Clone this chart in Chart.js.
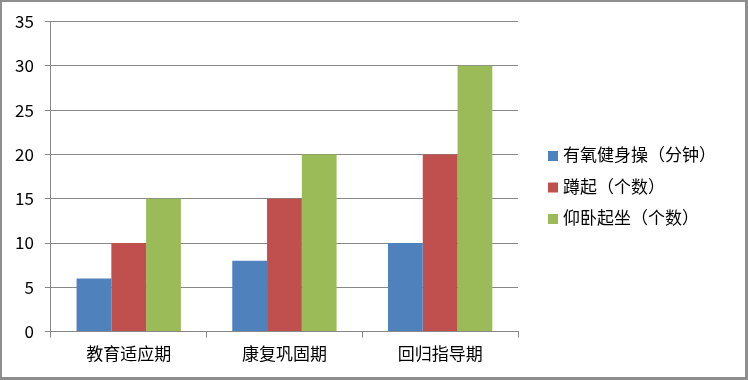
<!DOCTYPE html>
<html>
<head>
<meta charset="utf-8">
<script src="https://cdn.jsdelivr.net/npm/chart.js@4"></script>
<style>
  html, body { margin: 0; padding: 0; background: #fff; }
  #box {
    width: 748px; height: 380px; box-sizing: border-box;
    border: 2px solid #8e8e8e; border-right-width: 3px; border-bottom-width: 3px;
    position: relative;
  }
  #box canvas { display: block; }
</style>
</head>
<body>
<div id="box"><canvas id="chart" width="743" height="375"></canvas></div>
<script>
const categories = ["教育适应期", "康复巩固期", "回归指导期"];
const aerobics = [6, 8, 10];
const squats = [10, 15, 20];
const situps = [15, 20, 30];
const seriesNames = ["有氧健身操（分钟）", "蹲起（个数）", "仰卧起坐（个数）"];

const font = "'Noto Sans CJK SC', 'Liberation Sans', sans-serif";
const gridColor = "#888888";

// legend drawn by hand so it sits where the Excel legend sits
const sideLegend = {
    id: "sideLegend",
    afterDraw(chart) {
        const c = chart.ctx;
        const x = chart.chartArea.right + 30;
        const y0 = 153;
        const step = 31.5;
        c.save();
        c.font = "17px " + font;
        c.textBaseline = "middle";
        chart.data.datasets.forEach(function (ds, i) {
            const y = y0 + i * step;
            c.fillStyle = ds.backgroundColor;
            c.fillRect(x, y - 4, 10, 10);
            c.fillStyle = "#000";
            c.fillText(ds.label, x + 15, y);
        });
        c.restore();
    }
};

const ctx = document.getElementById("chart").getContext("2d");

new Chart(ctx, {
    type: "bar",
    data: {
        labels: categories,
        datasets: [
            { label: seriesNames[0], data: aerobics, backgroundColor: "#4f81bd" },
            { label: seriesNames[1], data: squats, backgroundColor: "#c0504d" },
            { label: seriesNames[2], data: situps, backgroundColor: "#9bbb59" }
        ]
    },
    options: {
        responsive: false,
        animation: false,
        layout: { padding: { top: 0, left: 2, right: 227, bottom: 7 } },
        datasets: {
            bar: { categoryPercentage: 0.67, barPercentage: 1.0 }
        },
        scales: {
            x: {
                grid: { drawOnChartArea: false, color: gridColor, tickLength: 6 },
                border: { color: gridColor },
                ticks: { color: "#000", font: { family: font, size: 17 }, padding: 6 }
            },
            y: {
                min: 0,
                max: 35,
                ticks: { stepSize: 5, color: "#000", font: { family: font, size: 17, lineHeight: 1.0 }, padding: 11 },
                grid: { color: gridColor, tickLength: 6 },
                border: { color: gridColor }
            }
        },
        plugins: {
            legend: { display: false },
            tooltip: { enabled: false }
        }
    },
    plugins: [sideLegend]
});
</script>
</body>
</html>
